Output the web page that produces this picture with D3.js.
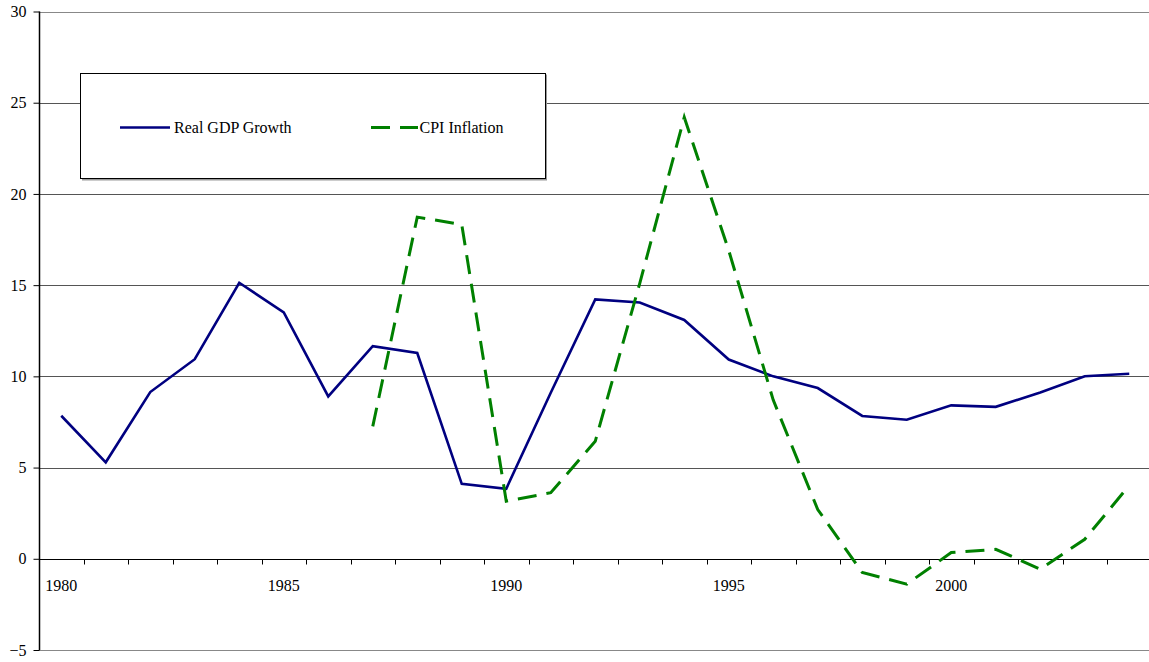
<!DOCTYPE html>
<html>
<head>
<meta charset="utf-8">
<script src="https://cdn.jsdelivr.net/npm/d3@7"></script>
<style>
  html, body { margin: 0; padding: 0; background: #fff; }
  svg { display: block; }
  svg text { font-family: "Liberation Serif", "Times New Roman", Times, "DejaVu Serif", serif !important; fill: #000; }
</style>
</head>
<body>
<svg id="chart" width="1149" height="662"></svg>
<script>
const years = d3.range(1980, 2005);
const gdpGrowth = [7.84, 5.29, 9.14, 10.94, 15.13, 13.51, 8.9, 11.65, 11.28, 4.11, 3.84, 9.1, 14.22, 14.05, 13.09, 10.92, 10.0, 9.36, 7.83, 7.62, 8.41, 8.33, 9.12, 10.01, 10.14];
const cpiInflation = [null, null, null, null, null, null, null, 7.26, 18.73, 18.32, 3.16, 3.62, 6.44, 15.1, 24.2, 16.9, 8.7, 2.7, -0.75, -1.39, 0.34, 0.52, -0.57, 1.07, 4.02];
const yTicks = [-5, 0, 5, 10, 15, 20, 25, 30];
const xLabelYears = [1980, 1985, 1990, 1995, 2000];
const seriesNames = ["Real GDP Growth", "CPI Inflation"];

const FONT = '"Liberation Serif", "Times New Roman", Times, "DejaVu Serif", serif';
const svg = d3.select("#chart");
const x = d3.scaleBand().domain(years).range([39, 1151.5]).padding(0);
const y = d3.scaleLinear().domain([-5, 30]).range([650, 11.5]);
const cx = d => x(d) + x.bandwidth() / 2;

// gridlines
svg.append("g").selectAll("line").data(yTicks.filter(v => v !== 0)).join("line")
  .attr("x1", 39).attr("x2", 1149)
  .attr("y1", d => Math.round(y(d)) + 0.5).attr("y2", d => Math.round(y(d)) + 0.5)
  .attr("stroke", d => (d === 30 || d === -5) ? "#888" : "#555").attr("stroke-width", 1);

// y axis
const yAxis = d3.axisLeft(y).tickValues(yTicks).tickSize(6).tickPadding(7).tickFormat(d3.format("d"));
const gy = svg.append("g").attr("transform", "translate(39.5,0)").call(yAxis)
  .attr("font-family", null).attr("font-size", null);
gy.select(".domain").remove();
gy.selectAll(".tick line").attr("stroke", "#000");
gy.selectAll(".tick text").style("font-size", "16px").style("font-family", FONT).attr("fill", "#000");
svg.append("line").attr("x1", 39.5).attr("x2", 39.5).attr("y1", y(30)).attr("y2", y(-5))
  .attr("stroke", "#000").attr("stroke-width", 1.5);

// x axis on zero line
const y0 = Math.round(y(0)) + 0.5;
svg.append("line").attr("x1", 39).attr("x2", 1149).attr("y1", y0).attr("y2", y0)
  .attr("stroke", "#000").attr("stroke-width", 1.2);
svg.append("g").selectAll("line").data(years.slice(1)).join("line")
  .attr("x1", d => Math.round(x(d)) + 0.5).attr("x2", d => Math.round(x(d)) + 0.5)
  .attr("y1", y0).attr("y2", y0 + 5).attr("stroke", "#000").attr("stroke-width", 1);
svg.append("g").selectAll("text").data(xLabelYears).join("text")
  .attr("x", d => cx(d)).attr("y", 590.5).attr("text-anchor", "middle")
  .style("font-size", "16px").style("font-family", FONT).text(d => d);

// lines
const lineGen = vals => d3.line()
  .defined((d, i) => vals[i] !== null)
  .x(d => cx(d)).y((d, i) => y(vals[i]))(years);

svg.append("path").attr("d", lineGen(gdpGrowth))
  .attr("fill", "none").attr("stroke", "#000080").attr("stroke-width", 2.6)
  .attr("stroke-linejoin", "miter");
svg.append("path").attr("d", lineGen(cpiInflation))
  .attr("fill", "none").attr("stroke", "#008000").attr("stroke-width", 3)
  .attr("stroke-dasharray", "19,10");

// legend
const lg = svg.append("g");
lg.append("rect").attr("x", 82).attr("y", 74.5).attr("width", 465).attr("height", 106)
  .attr("fill", "#999");
lg.append("rect").attr("x", 80.5).attr("y", 73.5).attr("width", 465).attr("height", 105)
  .attr("fill", "#fff").attr("stroke", "#000").attr("stroke-width", 1);
lg.append("line").attr("x1", 120).attr("x2", 170).attr("y1", 127.5).attr("y2", 127.5)
  .attr("stroke", "#000080").attr("stroke-width", 2.6);
lg.append("text").attr("x", 174).attr("y", 132.5).style("font-size", "16px").style("font-family", FONT).text(seriesNames[0]);
lg.append("line").attr("x1", 371).attr("x2", 418).attr("y1", 127.5).attr("y2", 127.5)
  .attr("stroke", "#008000").attr("stroke-width", 3).attr("stroke-dasharray", "19,10");
lg.append("text").attr("x", 419.5).attr("y", 132.5).style("font-size", "16px").style("font-family", FONT).text(seriesNames[1]);
</script>
</body>
</html>
